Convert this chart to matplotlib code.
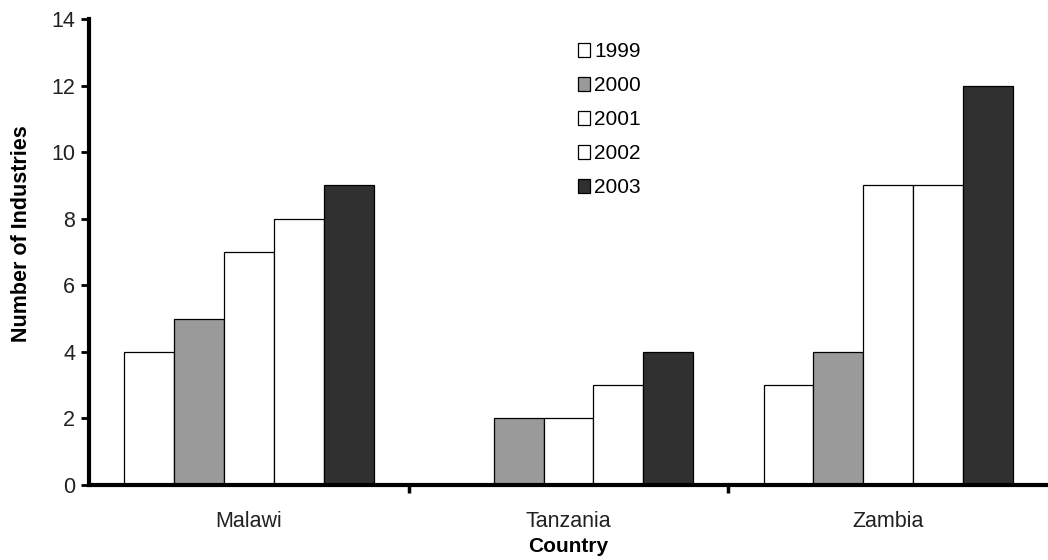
import numpy as np
import matplotlib.pyplot as plt

plt.rcParams['font.family'] = ['Liberation Sans', 'DejaVu Sans']

# data
countries = ["Malawi", "Tanzania", "Zambia"]
years = ["1999", "2000", "2001", "2002", "2003"]
v1999 = [4, 0, 3]
v2000 = [5, 2, 4]
v2001 = [7, 2, 9]
v2002 = [8, 3, 9]
v2003 = [9, 4, 12]

series = [v1999, v2000, v2001, v2002, v2003]
colores = ["white", "#9a9a9a", "white", "white", "#303030"]

fig = plt.figure(figsize=(10.48, 5.6), dpi=100)
ax = fig.add_axes([0.085, 0.134, 0.915, 0.832])

x = np.arange(len(countries))
ancho = 0.156
for i, (vals, c) in enumerate(zip(series, colores)):
    pos = x + (i - 2) * ancho
    ax.bar(pos, vals, width=ancho, color=c, edgecolor="black",
           linewidth=0.9, label=years[i])

ax.set_xlim(-0.5, 2.5)
ax.set_ylim(0, 14)
ax.set_yticks(range(0, 15, 2))

ax.set_xticks(x)
ax.set_xticklabels(countries, fontsize=15.5, color="#222222")
ax.tick_params(axis="x", length=0, pad=19)
ax.set_xticks([0.5, 1.5], minor=True)
ax.tick_params(axis="x", which="minor", length=6, width=2.5, direction="out")
ax.tick_params(axis="y", labelsize=15.5, labelcolor="#222222", length=6,
               width=2, direction="out", pad=4)

for s in ["top", "right"]:
    ax.spines[s].set_visible(False)
ax.spines["left"].set_linewidth(3)
ax.spines["bottom"].set_linewidth(3)

ax.set_ylabel("Number of Industries", fontsize=15.5, fontweight="bold")
ax.yaxis.set_label_coords(-0.060, 0.54)
ax.set_xlabel("Country", fontsize=15, fontweight="bold")
ax.xaxis.set_label_coords(0.5, -0.112)

ax.legend(loc="upper left", bbox_to_anchor=(0.49, 0.99), frameon=False,
          fontsize=15, handlelength=0.6, handleheight=0.6,
          handletextpad=0.2, labelspacing=0.72)

plt.savefig("out.png", dpi=100)
